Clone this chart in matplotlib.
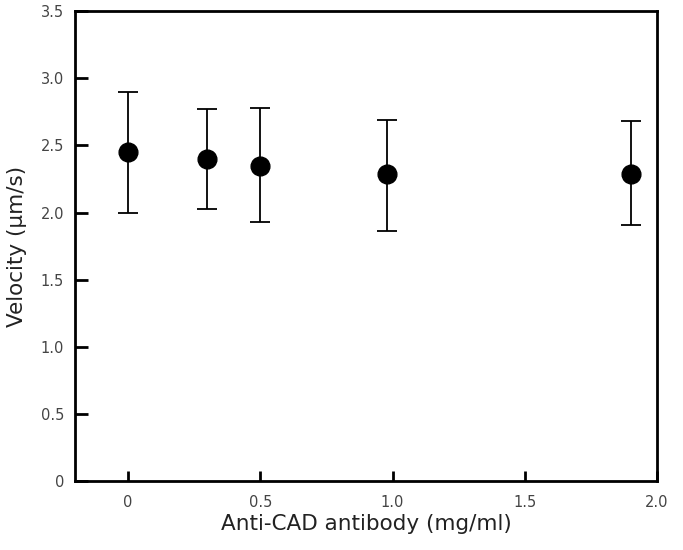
import matplotlib
matplotlib.use('Agg')
import matplotlib.pyplot as plt

plt.rcParams['font.family'] = ['DejaVu Sans']

# antibody concentration (mg/ml) and velocity (um/s)
conc = [0.0, 0.3, 0.5, 0.98, 1.9]
velocity = [2.45, 2.40, 2.35, 2.29, 2.29]
err_upper = [2.90, 2.77, 2.78, 2.69, 2.68]
err_lower = [2.00, 2.03, 1.93, 1.86, 1.91]

xticks = [0, 0.5, 1.0, 1.5, 2.0]
xtick_labels = ['0', '0.5', '1.0', '1.5', '2.0']
yticks = [0, 0.5, 1.0, 1.5, 2.0, 2.5, 3.0, 3.5]
ytick_labels = ['0', '0.5', '1.0', '1.5', '2.0', '2.5', '3.0', '3.5']

yerr = [[v - lo for v, lo in zip(velocity, err_lower)],
        [hi - v for v, hi in zip(velocity, err_upper)]]

fig = plt.figure(figsize=(6.83, 5.5), dpi=100)
ax = fig.add_axes([0.11, 0.125, 0.852, 0.855])

ax.errorbar(conc, velocity, yerr=yerr, fmt='o', color='black',
            markersize=13.5, capsize=7.2, elinewidth=1.3, capthick=1.3)

ax.set_xlim(-0.2, 2.0)
ax.set_ylim(0, 3.5)
ax.set_xticks(xticks)
ax.set_xticklabels(xtick_labels)
ax.set_yticks(yticks)
ax.set_yticklabels(ytick_labels)
ax.tick_params(axis='y', direction='in', length=9, width=2, pad=8,
               labelsize=10.5, labelcolor='#444444')
ax.tick_params(axis='x', direction='in', length=7, width=2, pad=10,
               labelsize=10.5, labelcolor='#444444')
for side in ax.spines.values():
    side.set_linewidth(2)

ax.set_xlabel('Anti-CAD antibody (mg/ml)', fontsize=15.5, color='#222222', labelpad=3)
ax.set_ylabel('Velocity (\u03bcm/s)', fontsize=15.5, color='#222222', labelpad=10)

plt.savefig('out.png', dpi=100)
plt.close()
